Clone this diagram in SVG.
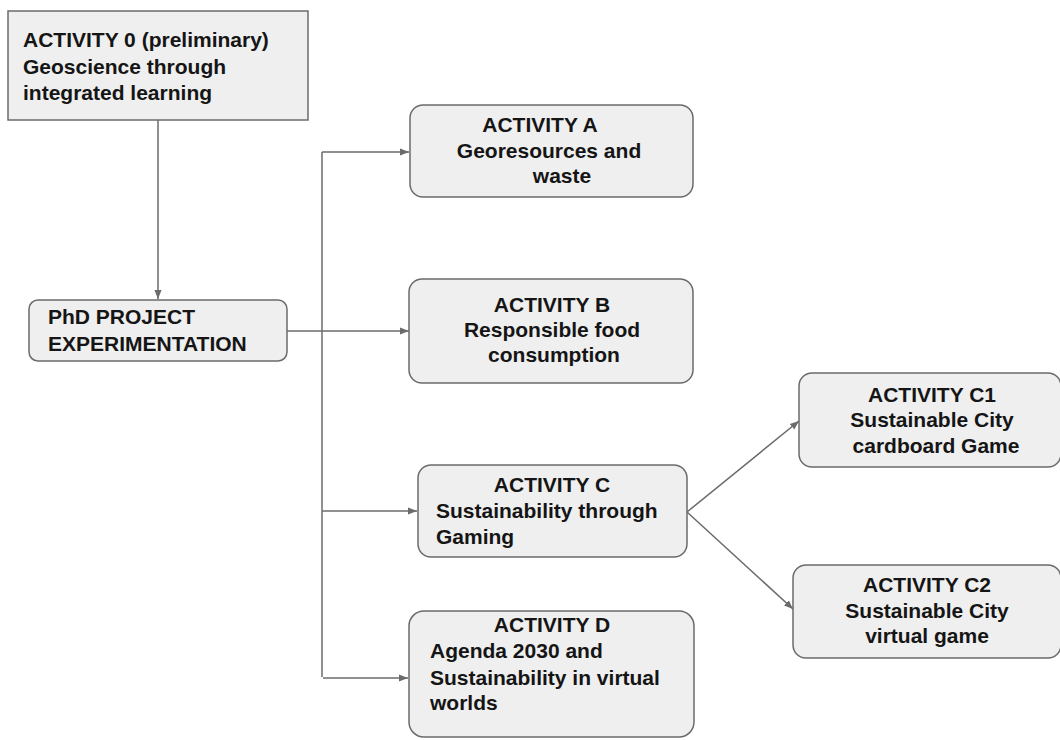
<svg xmlns="http://www.w3.org/2000/svg" width="1060" height="740" viewBox="0 0 1060 740">
<style>
.box{fill:#efefef;stroke:#6b6b6b;stroke-width:1.5}
.t{font-family:"Liberation Sans",Arial,sans-serif;font-weight:bold;font-size:21px;fill:#151515}
.c{text-anchor:middle}
.ln{fill:none;stroke:#6b6b6b;stroke-width:1.5}
</style>
<defs>
<marker id="ah" viewBox="0 0 10 10" refX="10" refY="5" markerWidth="9" markerHeight="9" markerUnits="userSpaceOnUse" orient="auto">
<path d="M0,1 L10,5 L0,9 Z" fill="#6b6b6b"/>
</marker>
</defs>
<rect width="1060" height="740" fill="#ffffff"/>
<g id="connectors">
<line class="ln" x1="158" y1="120" x2="158" y2="299" marker-end="url(#ah)"/>
<line class="ln" x1="287" y1="331" x2="409" y2="331" marker-end="url(#ah)"/>
<line class="ln" x1="322" y1="152" x2="322" y2="677"/>
<line class="ln" x1="322" y1="152" x2="409" y2="152" marker-end="url(#ah)"/>
<line class="ln" x1="322" y1="511" x2="417" y2="511" marker-end="url(#ah)"/>
<line class="ln" x1="323" y1="678" x2="408" y2="678" marker-end="url(#ah)"/>
<line class="ln" x1="687" y1="512" x2="799" y2="421" marker-end="url(#ah)"/>
<line class="ln" x1="687" y1="512" x2="793" y2="609" marker-end="url(#ah)"/>
</g>
<g id="node-activity0">
<rect class="box" x="8" y="11" width="300" height="109"/>
<text class="t" x="23" y="47">ACTIVITY 0 (preliminary)</text>
<text class="t" x="23" y="74">Geoscience through</text>
<text class="t" x="23" y="100">integrated learning</text>
</g>
<g id="node-phd">
<rect class="box" x="29" y="300" width="258" height="61" rx="9"/>
<text class="t" x="48" y="324">PhD PROJECT</text>
<text class="t" x="48" y="351">EXPERIMENTATION</text>
</g>
<g id="node-a">
<rect class="box" x="410" y="105" width="283" height="92" rx="13"/>
<text class="t c" x="540" y="132">ACTIVITY A</text>
<text class="t c" x="549" y="158">Georesources and</text>
<text class="t c" x="562" y="183">waste</text>
</g>
<g id="node-b">
<rect class="box" x="409" y="279" width="284" height="104" rx="13"/>
<text class="t c" x="552" y="312">ACTIVITY B</text>
<text class="t c" x="552" y="337">Responsible food</text>
<text class="t c" x="554" y="362">consumption</text>
</g>
<g id="node-c">
<rect class="box" x="418" y="465" width="269" height="92" rx="13"/>
<text class="t c" x="552" y="492">ACTIVITY C</text>
<text class="t" x="436" y="518">Sustainability through</text>
<text class="t" x="436" y="544">Gaming</text>
</g>
<g id="node-d">
<rect class="box" x="409" y="611" width="285" height="126" rx="15"/>
<text class="t c" x="552" y="632">ACTIVITY D</text>
<text class="t" x="430" y="658">Agenda 2030 and</text>
<text class="t" x="430" y="685">Sustainability in virtual</text>
<text class="t" x="430" y="710">worlds</text>
</g>
<g id="node-c1">
<rect class="box" x="799" y="373" width="262" height="94" rx="13"/>
<text class="t c" x="932" y="402">ACTIVITY C1</text>
<text class="t c" x="932" y="427">Sustainable City</text>
<text class="t c" x="936" y="453">cardboard Game</text>
</g>
<g id="node-c2">
<rect class="box" x="793" y="565" width="268" height="93" rx="13"/>
<text class="t c" x="927" y="592">ACTIVITY C2</text>
<text class="t c" x="927" y="618">Sustainable City</text>
<text class="t c" x="927" y="643">virtual game</text>
</g>
</svg>
